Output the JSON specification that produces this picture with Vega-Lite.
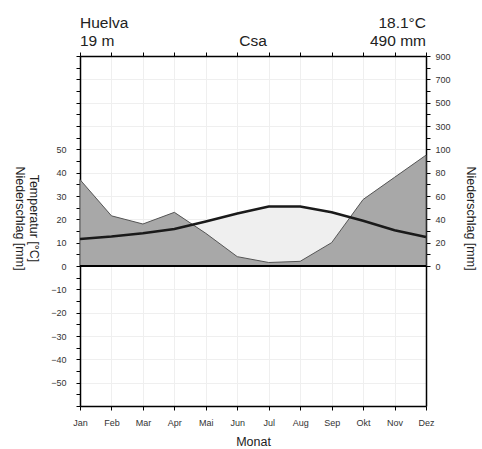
{
  "$schema": "https://vega.github.io/schema/vega-lite/v6.json",
  "width": 346,
  "height": 350,
  "autosize": {"type": "none"},
  "padding": {"left": 80, "top": 56, "right": 56, "bottom": 43},
  "background": "white",
  "config": {
    "font": "Liberation Sans",
    "view": {"stroke": null},
    "axis": {
      "domainColor": "black",
      "domainWidth": 1.5,
      "tickColor": "black",
      "tickWidth": 1,
      "tickSize": 4,
      "labelFont": "Liberation Sans",
      "labelFontSize": 9,
      "labelColor": "#333333",
      "titleFont": "Liberation Sans",
      "titleFontWeight": "normal",
      "titleColor": "#222222",
      "titleFontSize": 12.5,
      "gridColor": "#efefef",
      "gridWidth": 1
    }
  },
  "data": {
    "values": [
      {"month": 1, "temp": 11.6, "precip": 74},
      {"month": 2, "temp": 12.6, "precip": 43},
      {"month": 3, "temp": 14.0, "precip": 36},
      {"month": 4, "temp": 15.9, "precip": 46},
      {"month": 5, "temp": 19.1, "precip": 28},
      {"month": 6, "temp": 22.5, "precip": 8},
      {"month": 7, "temp": 25.5, "precip": 3},
      {"month": 8, "temp": 25.5, "precip": 4},
      {"month": 9, "temp": 23.0, "precip": 20},
      {"month": 10, "temp": 19.4, "precip": 57},
      {"month": 11, "temp": 15.3, "precip": 76},
      {"month": 12, "temp": 12.4, "precip": 95}
    ]
  },
  "layer": [
    {
      "transform": [{"calculate": "datum.precip <= 100 ? datum.precip / 2 : 50 + (datum.precip - 100) / 20", "as": "p_scaled"}],
      "mark": {"type": "area", "color": "#efefef"},
      "encoding": {
        "x": {
          "field": "month", "type": "quantitative",
          "scale": {"domain": [1, 12], "nice": false, "zero": false},
          "axis": {
            "orient": "bottom",
            "values": [1, 2, 3, 4, 5, 6, 7, 8, 9, 10, 11, 12],
            "labelExpr": "['Jan','Feb','Mar','Apr','Mai','Jun','Jul','Aug','Sep','Okt','Nov','Dez'][datum.value - 1]",
            "labelPadding": 8,
            "labelFlush": false,
            "grid": true,
            "title": "Monat",
            "titlePadding": 8
          }
        },
        "y": {
          "field": "temp", "type": "quantitative",
          "scale": {"domain": [-60, 90], "nice": false, "zero": false},
          "axis": {
            "orient": "left",
            "values": [-60, -55, -50, -45, -40, -35, -30, -25, -20, -15, -10, -5, 0, 5, 10, 15, 20, 25, 30, 35, 40, 45, 50, 55, 60, 65, 70, 75, 80, 85, 90],
            "labelExpr": "(datum.value % 10 == 0 && abs(datum.value) <= 50) ? datum.label : ''",
            "labelPadding": 10,
            "grid": true,
            "gridOpacity": {"condition": {"test": "datum.value % 10 == 0", "value": 1}, "value": 0},
            "title": ["Temperatur [°C]", "Niederschlag [mm]"],
            "titleAngle": 90,
            "titleAlign": "center",
            "titleBaseline": "middle",
            "titleLineHeight": 13.5,
            "titleX": -47,
            "titleY": 162
          }
        },
        "y2": {"field": "p_scaled"}
      }
    },
    {
      "transform": [{"calculate": "datum.precip <= 100 ? datum.precip / 2 : 50 + (datum.precip - 100) / 20", "as": "p_scaled"}],
      "mark": {"type": "area", "color": "#a8a8a8", "stroke": "#555555", "strokeWidth": 1},
      "encoding": {
        "x": {
          "field": "month", "type": "quantitative",
          "axis": {
            "orient": "top",
            "values": [1, 2, 3, 4, 5, 6, 7, 8, 9, 10, 11, 12],
            "labels": false,
            "grid": false,
            "title": null
          }
        },
        "y": {
          "field": "p_scaled", "type": "quantitative",
          "axis": {
            "orient": "right",
            "values": [0, 5, 10, 15, 20, 25, 30, 35, 40, 45, 50, 55, 60, 65, 70, 75, 80, 85, 90],
            "labelExpr": "datum.value % 10 == 0 ? (datum.value <= 50 ? format(datum.value * 2, 'd') : format(100 + (datum.value - 50) * 20, 'd')) : ''",
            "labelPadding": 5,
            "grid": false,
            "title": "Niederschlag [mm]",
            "titleAngle": 90,
            "titleAlign": "center",
            "titleBaseline": "middle",
            "titleX": 44,
            "titleY": 162
          }
        },
        "y2": {"datum": 0}
      }
    },
    {
      "mark": {"type": "rule", "color": "black", "strokeWidth": 2},
      "encoding": {"y": {"datum": 0, "type": "quantitative", "axis": null}}
    },
    {
      "mark": {"type": "line", "color": "#1a1a1a", "strokeWidth": 2.5},
      "encoding": {
        "x": {"field": "month", "type": "quantitative", "axis": null},
        "y": {"field": "temp", "type": "quantitative", "axis": null}
      }
    },
    {
      "data": {"values": [{"label": ["Huelva", "19 m"]}]},
      "mark": {"type": "text", "align": "left", "baseline": "alphabetic", "fontSize": 15.5, "lineHeight": 18, "color": "#222222", "font": "Liberation Sans"},
      "encoding": {
        "x": {"datum": 1, "type": "quantitative", "axis": null},
        "y": {"datum": 102.2, "type": "quantitative", "axis": null},
        "text": {"field": "label"}
      }
    },
    {
      "data": {"values": [{"label": ["18.1°C", "490 mm"]}]},
      "mark": {"type": "text", "align": "right", "baseline": "alphabetic", "fontSize": 15.5, "lineHeight": 18, "color": "#222222", "font": "Liberation Sans"},
      "encoding": {
        "x": {"datum": 12, "type": "quantitative", "axis": null},
        "y": {"datum": 102.2, "type": "quantitative", "axis": null},
        "text": {"field": "label"}
      }
    },
    {
      "data": {"values": [{"label": "Csa"}]},
      "mark": {"type": "text", "align": "center", "baseline": "alphabetic", "fontSize": 15.5, "color": "#222222", "font": "Liberation Sans"},
      "encoding": {
        "x": {"datum": 6.5, "type": "quantitative", "axis": null},
        "y": {"datum": 94.5, "type": "quantitative", "axis": null},
        "text": {"field": "label"}
      }
    }
  ],
  "resolve": {"axis": {"x": "independent", "y": "independent"}}
}
